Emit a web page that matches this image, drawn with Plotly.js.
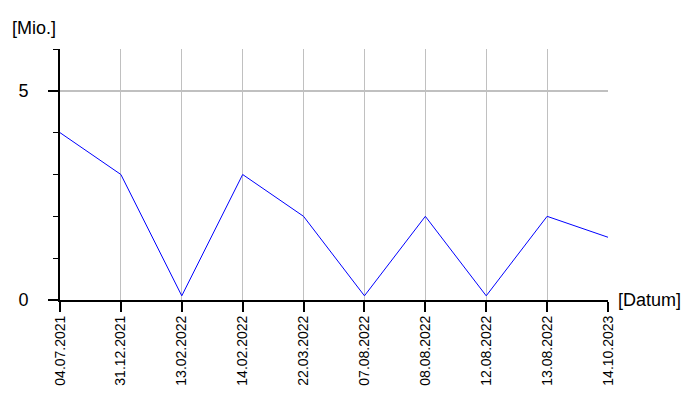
<!DOCTYPE html>
<html><head><meta charset="utf-8">
<script src="https://cdn.plot.ly/plotly-3.0.1.min.js"></script>
<style>body{margin:0;background:#fff}#c{width:700px;height:400px}</style>
</head><body><div id="c"></div>
<script>
const dates = ["04.07.2021","31.12.2021","13.02.2022","14.02.2022","22.03.2022","07.08.2022","08.08.2022","12.08.2022","13.08.2022","14.10.2023"];
const values = [4, 3, 0.1, 3, 2, 0.1, 2, 0.1, 2, 1.5];
const yTicks = [0, 5];
const yTitle = "[Mio.]";
const xTitle = "[Datum]";

const font = "Liberation Sans, Arial, sans-serif";
Plotly.newPlot("c", [{
  x: dates.map((d,i)=>i), y: values, type: "scatter", mode: "lines",
  line: {color: "#0000ff", width: 1}, hoverinfo: "none"
}], {
  width: 700, height: 400,
  margin: {l: 60, r: 92, t: 49, b: 100},
  paper_bgcolor: "#fff", plot_bgcolor: "#fff",
  showlegend: false,
  font: {family: font, color: "#000"},
  xaxis: {
    range: [0, dates.length - 1], tickmode: "array",
    tickvals: dates.map((d,i)=>i), ticktext: dates, tickangle: -90,
    tickfont: {size: 14, family: font, color: "#000"},
    ticks: "outside", ticklen: 10, tickcolor: "#000", tickwidth: 2,
    ticklabelstandoff: -2,
    showgrid: true, gridcolor: "#c0c0c0", gridwidth: 1,
    showline: true, linecolor: "#000", linewidth: 2,
    zeroline: false, fixedrange: true
  },
  yaxis: {
    range: [0, 6], tickmode: "array", tickvals: yTicks,
    tickfont: {size: 18, family: font, color: "#000"},
    ticks: "outside", ticklen: 10, tickcolor: "#000", tickwidth: 2,
    ticklabelstandoff: 16,
    minor: {dtick: 1, tick0: 0, ticks: "outside", ticklen: 5, tickcolor: "#000", tickwidth: 1, showgrid: false},
    showgrid: true, gridcolor: "#c0c0c0", gridwidth: 2,
    showline: true, linecolor: "#000", linewidth: 2,
    zeroline: false, fixedrange: true
  },
  annotations: [
    {text: yTitle, xref: "paper", yref: "paper", x: 0, y: 1, xshift: -50, yshift: 21,
     xanchor: "left", yanchor: "middle", showarrow: false, font: {size: 18, family: font, color: "#000"}},
    {text: xTitle, xref: "paper", yref: "paper", x: 1, y: 0, xshift: 8,
     xanchor: "left", yanchor: "middle", showarrow: false, font: {size: 18, family: font, color: "#000"}}
  ]
}, {staticPlot: true});
</script></body></html>
